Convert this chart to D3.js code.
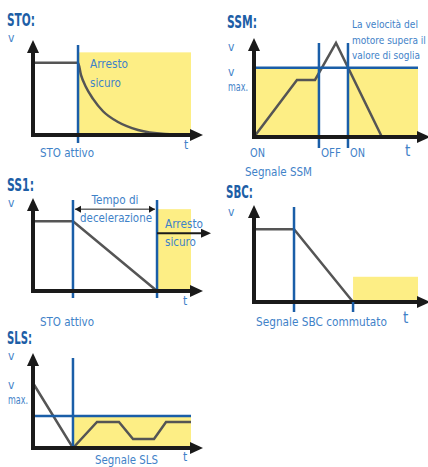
<!DOCTYPE html>
<html lang="it">
<head>
<meta charset="utf-8">
<script src="https://cdn.jsdelivr.net/npm/d3@7"></script>
<style>
  body { margin: 0; background: #fff; }
  text { font-family: "DejaVu Sans Condensed", "Open Sans", sans-serif; }
  .title { font-size: 18px; font-weight: bold; fill: #1d5ea6; }
  .lbl { font-size: 12px; fill: #3f82c8; }
  .note { font-size: 11px; fill: #3f82c8; }
  .big { font-size: 15px; fill: #3f82c8; }
</style>
</head>
<body>
<svg id="chart" width="428" height="467"></svg>
<script>
  // valori in unita' relative: t 0..10, v 0..10
  // STO
  const stoSpeed = [[0, 7.6], [2.85, 7.6], [3.04, 6.3], [3.35, 5.05], [3.8, 3.8], [4.43, 2.5],
    [5.38, 1.37], [6.65, 0.53], [8.35, 0.1], [10, 0]]
  const stoSignal = [2.85]
  const stoZone = [[2.85, 10, 8.7]]          // [da, a, altezza]

  // SSM
  const ssmSpeed = [[0, 0], [2.62, 5.76], [3.72, 5.76], [5.0, 9.5], [7.8, 0]]
  const ssmSignal = [3.96, 5.73]
  const ssmVmax = 7
  const ssmZone = [[0, 3.96, 7], [5.73, 10, 7]]
  const ssmStates = ['ON', 'OFF', 'ON']

  // SS1
  const ss1Speed = [[0, 7.5], [2.53, 7.5], [7.85, 0]]
  const ss1Signal = [2.53, 7.85]
  const ss1Zone = [[7.85, 10, 8.8]]

  // SBC
  const sbcSpeed = [[0, 7.5], [2.44, 7.5], [6.04, 0]]
  const sbcSignal = [2.44]
  const sbcZone = [[6.04, 10, 2.6]]

  // SLS
  const slsSpeed = [[0, 6.84], [2.53, 0], [4.05, 2.74], [5.44, 2.74], [6.33, 0.95], [7.66, 0.95],
    [8.42, 2.74], [10, 2.74]]
  const slsSignal = [2.53]
  const slsVmax = 3.37
  const slsZone = [[2.53, 10, 3.37]]

  const svg = d3.select('#chart')
  const blue = '#1a5ea8'
  const yellow = '#fdee85'
  const gray = '#555555'

  function arrowHead(g, x, y, dir, len, half) {
    let pts
    if (dir === 'up') pts = [[x, y], [x - half, y + len], [x + half, y + len]]
    else pts = [[x, y], [x - len, y - half], [x - len, y + half]]
    g.append('path').attr('d', d3.line()(pts) + 'Z').attr('fill', '#1a1a1a')
  }

  function panel(o) {
    const g = svg.append('g')
    const x = d3.scaleLinear().domain([0, 10]).range([o.left, o.right])
    const y = d3.scaleLinear().domain([0, 10]).range([o.bottom, o.top])

    // zone gialle
    g.selectAll('rect.zone')
      .data(o.zone)
      .enter()
      .append('rect')
      .attr('x', d => x(d[0]))
      .attr('y', d => y(d[2]))
      .attr('width', d => x(d[1]) - x(d[0]))
      .attr('height', d => y(0) - y(d[2]))
      .attr('fill', yellow)

    // curva velocita'
    g.append('path')
      .datum(o.speed)
      .attr('d', d3.line().x(d => x(d[0])).y(d => y(d[1])).curve(o.curve || d3.curveLinear))
      .attr('fill', 'none')
      .attr('stroke', gray)
      .attr('stroke-width', 2.5)

    // v max
    if (o.vmax !== undefined) {
      g.append('line')
        .attr('x1', x(0)).attr('x2', x(10))
        .attr('y1', y(o.vmax)).attr('y2', y(o.vmax))
        .attr('stroke', blue).attr('stroke-width', 2.5)
    }

    // segnali verticali
    g.selectAll('line.sig')
      .data(o.signal)
      .enter()
      .append('line')
      .attr('x1', d => x(d)).attr('x2', d => x(d))
      .attr('y1', (d, i) => o.sigTop ? o.sigTop[i] : y(10) + 5)
      .attr('y2', o.bottom + o.sigBelow)
      .attr('stroke', blue)
      .attr('stroke-width', 2.5)

    // assi
    g.append('line')
      .attr('x1', o.left).attr('x2', o.left)
      .attr('y1', o.bottom + 2).attr('y2', o.top + 8)
      .attr('stroke', '#1a1a1a').attr('stroke-width', 4)
    g.append('line')
      .attr('x1', o.left - 2).attr('x2', o.right + 2)
      .attr('y1', o.bottom).attr('y2', o.bottom)
      .attr('stroke', '#1a1a1a').attr('stroke-width', 4)
    arrowHead(g, o.left, o.top, 'up', 13, 6)
    arrowHead(g, o.right + 12, o.bottom, 'right', 13, 6)

    return { g, x, y }
  }

  // w = larghezza del testo nel riferimento (font stretto): il testo viene compresso in orizzontale
  function label(txt, x, y, cls, anchor, w) {
    const t = svg.append('text').attr('class', cls || 'lbl')
      .attr('text-anchor', anchor || 'start').text(txt)
    let sx = 1
    if (w) sx = w / t.node().getComputedTextLength()
    t.attr('transform', `translate(${x},${y}) scale(${sx},1)`)
  }

  // ---- STO ----
  panel({ left: 33, bottom: 135, right: 191, top: 40, speed: stoSpeed, signal: stoSignal,
    zone: stoZone, sigBelow: 8, curve: d3.curveMonotoneX })
  label('STO:', 7, 26, 'title', 'start', 28)
  label('v', 8, 42)
  label('t', 184, 149)
  label('Arresto', 90, 68, 'lbl', 'start', 38)
  label('sicuro', 90, 87, 'lbl', 'start', 31)
  label('STO attivo', 40, 157, 'lbl', 'start', 54)

  // ---- SSM ----
  const ssm = panel({ left: 254, bottom: 137, right: 418, top: 38, speed: ssmSpeed, signal: ssmSignal,
    zone: ssmZone, vmax: ssmVmax, sigBelow: 11, sigTop: [43, 43] })
  label('SSM:', 227, 28, 'title', 'start', 30)
  label('v', 228, 51)
  label('v', 228, 76)
  label('max.', 228, 91, 'lbl', 'start', 20)
  label('t', 405, 156, 'big')
  const stateX = [0, ssmSignal[0], ssmSignal[1]]
  const stateW = [15, 20, 15]
  ssmStates.forEach((s, i) => label(s, ssm.x(stateX[i]) + (i === 0 ? -4 : 2), 157, 'lbl', 'start', stateW[i]))
  label('Segnale SSM', 245, 176, 'lbl', 'start', 67)
  label('La velocità del', 352, 28, 'note', 'start', 66)
  label('motore supera il', 352, 44, 'note', 'start', 74)
  label('valore di soglia', 352, 59, 'note', 'start', 68)

  // ---- SS1 ----
  const ss1 = panel({ left: 33, bottom: 291, right: 191, top: 198, speed: ss1Speed, signal: ss1Signal,
    zone: ss1Zone, sigBelow: 7, sigTop: [200, 200] })
  label('SS1:', 7, 191, 'title', 'start', 27)
  label('v', 8, 207)
  label('t', 183, 305)
  label('Tempo di', 115, 204, 'lbl', 'middle', 47)
  label('decelerazione', 116, 222, 'lbl', 'middle', 72)
  label('Arresto', 165, 228, 'lbl', 'start', 38)
  label('sicuro', 165, 246, 'lbl', 'start', 31)
  label('STO attivo', 40, 326, 'lbl', 'start', 54)
  // freccia doppia tempo di decelerazione
  const ya = ss1.y(ss1Zone[0][2])
  const x1 = ss1.x(ss1Signal[0]), x2 = ss1.x(ss1Signal[1])
  ss1.g.append('line').attr('x1', x1 + 2).attr('x2', x2 - 2).attr('y1', ya).attr('y2', ya)
    .attr('stroke', '#1a1a1a').attr('stroke-width', 1)
  ss1.g.append('path').attr('d', d3.line()([[x1 + 2, ya], [x1 + 8, ya - 3.5], [x1 + 8, ya + 3.5]]) + 'Z').attr('fill', '#1a1a1a')
  ss1.g.append('path').attr('d', d3.line()([[x2 - 2, ya], [x2 - 8, ya - 3.5], [x2 - 8, ya + 3.5]]) + 'Z').attr('fill', '#1a1a1a')
  // freccia arresto sicuro
  const yb = ss1.y(6.2)
  ss1.g.append('line').attr('x1', x2).attr('x2', 203).attr('y1', yb).attr('y2', yb)
    .attr('stroke', '#1a1a1a').attr('stroke-width', 2)
  arrowHead(ss1.g, 211, yb, 'right', 10, 4.5)

  // ---- SBC ----
  const sbc = panel({ left: 254, bottom: 302, right: 418, top: 205, speed: sbcSpeed, signal: sbcSignal,
    zone: sbcZone, sigBelow: 10, sigTop: [207] })
  label('SBC:', 226, 198, 'title', 'start', 27)
  label('v', 228, 216)
  label('t', 403, 323, 'big')
  label('Segnale SBC commutato', 256, 326, 'lbl', 'start', 131)
  sbc.g.append('line')
    .attr('x1', sbc.x(sbcZone[0][0])).attr('x2', sbc.x(sbcZone[0][0]))
    .attr('y1', 302).attr('y2', 312)
    .attr('stroke', blue).attr('stroke-width', 2.5)

  // ---- SLS ----
  panel({ left: 33, bottom: 448, right: 191, top: 353, speed: slsSpeed, signal: slsSignal,
    zone: slsZone, vmax: slsVmax, sigBelow: 0, sigTop: [358] })
  label('SLS:', 7, 344, 'title', 'start', 25)
  label('v', 8, 360)
  label('v', 8, 389)
  label('max.', 8, 404, 'lbl', 'start', 20)
  label('t', 183, 461)
  label('Segnale SLS', 95, 464, 'lbl', 'start', 63)
</script>
</body>
</html>
